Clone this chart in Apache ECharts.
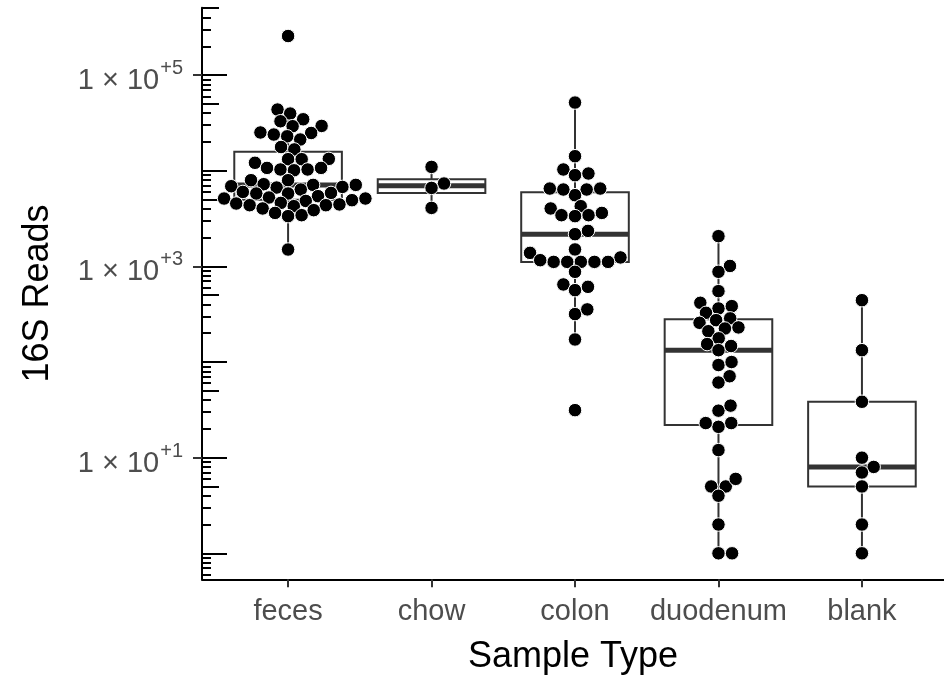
<!DOCTYPE html>
<html>
<head>
<meta charset="utf-8">
<script src="https://cdn.jsdelivr.net/npm/echarts@6/dist/echarts.min.js"></script>
<style>
html,body{margin:0;padding:0;background:#fff;}
#main{width:944px;height:675px;}
</style>
</head>
<body>
<div id="main"></div>
<script>
// ---- data (16S reads per sample) ----
const categories = ['feces', 'chow', 'colon', 'duodenum', 'blank'];
const feces = [256000, 43600, 39600, 34500, 32900, 29400, 29200, 24800, 25100, 23900, 22900, 21200,
  17700, 16700, 13300, 13200, 13200, 12100, 10700, 10300, 10100, 10300, 10700, 7960, 7960, 7110, 7110,
  6770, 6360, 6670, 6890, 7230, 5860, 5780, 6000, 5780, 5420, 5250, 4830, 5120, 5120, 4920, 4360, 4540,
  4360, 4610, 4260, 4440, 4030, 3620, 3350, 3430, 3870, 1500];
const chow = [10960, 7350, 6610, 4085];
const colon = [51600, 14180, 10300, 8980, 9350, 6510, 6360, 5550, 6360, 6510, 4260, 4030, 3430, 3350,
  3430, 3620, 2170, 2350, 1384, 1503, 1240, 1114, 1114, 1114, 1114, 1114, 1161, 877, 647, 564, 611,
  317, 355, 172, 31.4];
const duodenum = [2070, 1010, 877, 551, 416, 363, 384, 327, 286, 257, 274, 210, 224, 230, 177, 154,
  147, 133, 93, 100, 71, 61, 31, 35, 23, 21, 23, 12, 5, 5, 6, 4, 2, 1, 1];
const blank = [443, 133, 38.4, 10, 8, 7, 5, 2, 1];
const groups = [feces, chow, colon, duodenum, blank];
const labeledExponents = [1, 3, 5];          // y tick labels: 1 x 10^+1, ^+3, ^+5
const yLow = 0.535, yHigh = 5.05e5;          // y axis extent (reads)

// ---- helpers ----
const FONT = "'Liberation Sans', Arial, Helvetica, sans-serif";
const log10 = Math.log10;
function q7(s, p) { const h = (s.length - 1) * p, lo = Math.floor(h), hi = Math.ceil(h); return s[lo] + (h - lo) * (s[hi] - s[lo]); }
const boxData = groups.map((vals, i) => {
  const l = vals.map(log10).sort((a, b) => a - b);
  const q1 = q7(l, 0.25), med = q7(l, 0.5), q3 = q7(l, 0.75), iqr = q3 - q1;
  const lo = l.find(v => v >= q1 - 1.5 * iqr);
  const hi = l.slice().reverse().find(v => v <= q3 + 1.5 * iqr);
  return [i + 1, lo, q1, med, q3, hi];
});

const yMin = log10(yLow), yMax = log10(yHigh);
const decades = [], fives = [], others = [];
for (let k = -1; k <= 5; k++) {
  for (let m = 1; m <= 9; m++) {
    const v = log10(m * Math.pow(10, k));
    if (v < yMin - 1e-9 || v > yMax + 1e-9) continue;
    if (m === 1) decades.push(v); else if (m === 5) fives.push(v); else others.push(v);
  }
}
function tickAxis(vals, len) {
  return {
    type: 'value', min: yMin, max: yMax, position: 'left', offset: 0,
    axisLine: { show: false }, splitLine: { show: false },
    axisLabel: { show: false },
    axisTick: { show: true, inside: true, length: len, customValues: vals, lineStyle: { color: '#000', width: 2 } }
  };
}

const chart = echarts.init(document.getElementById('main'));
const option = {
  animation: false,
  backgroundColor: '#fff',
  grid: { left: 202, right: 0, top: 7.8, bottom: 95.7, containLabel: false, outerBoundsMode: 'none' },
  xAxis: {
    type: 'value', min: 0.4, max: 5.572,
    name: 'Sample Type', nameLocation: 'middle', nameGap: 60,
    nameTextStyle: { fontSize: 36, color: '#000', fontFamily: FONT },
    axisLine: { show: true, onZero: false, lineStyle: { color: '#000', width: 2 } },
    axisTick: { show: true, length: 8, customValues: [1, 2, 3, 4, 5], lineStyle: { color: '#333', width: 2 } },
    axisLabel: { customValues: [1, 2, 3, 4, 5], margin: 18, fontSize: 29, color: '#4d4d4d', fontFamily: FONT,
      formatter: v => categories[Math.round(v) - 1] },
    splitLine: { show: false }
  },
  yAxis: [
    {
      type: 'value', min: yMin, max: yMax, position: 'left',
      name: '16S Reads', nameLocation: 'middle', nameGap: 146,
      nameTextStyle: { fontSize: 36, color: '#000', fontFamily: FONT },
      axisLine: { show: true, onZero: false, lineStyle: { color: '#000', width: 2 } },
      axisTick: { show: true, length: 9, customValues: labeledExponents, lineStyle: { color: '#333', width: 2 } },
      axisLabel: {
        customValues: labeledExponents, margin: 19, padding: [12, 0, 0, 0],
        formatter: v => '{b|1 \u00d7 10}{s|+' + Math.round(v) + '}',
        rich: {
          b: { fontSize: 29, lineHeight: 29, color: '#4d4d4d', fontFamily: FONT, verticalAlign: 'bottom' },
          s: { fontSize: 20, lineHeight: 20, color: '#4d4d4d', fontFamily: FONT, verticalAlign: 'bottom', padding: [0, 0, 17, 1] }
        }
      },
      splitLine: { show: false }
    },
    tickAxis(decades, 25),
    tickAxis(fives, 17),
    tickAxis(others, 9)
  ],
  series: [{
    type: 'custom', name: 'box', xAxisIndex: 0, yAxisIndex: 0, z: 1,
    data: boxData,
    renderItem: function (params, api) {
      const x = api.value(0), hw = 0.375;
      const pLo = api.coord([x, api.value(1)]), pQ1 = api.coord([x, api.value(2)]);
      const pMed = api.coord([x, api.value(3)]), pQ3 = api.coord([x, api.value(4)]), pHi = api.coord([x, api.value(5)]);
      const left = api.coord([x - hw, api.value(3)])[0], right = api.coord([x + hw, api.value(3)])[0];
      const st = { stroke: '#333333', lineWidth: 2 };
      return { type: 'group', children: [
        { type: 'line', shape: { x1: pLo[0], y1: pLo[1], x2: pQ1[0], y2: pQ1[1] }, style: st },
        { type: 'line', shape: { x1: pQ3[0], y1: pQ3[1], x2: pHi[0], y2: pHi[1] }, style: st },
        { type: 'rect', shape: { x: left, y: pQ3[1], width: right - left, height: pQ1[1] - pQ3[1] },
          style: { fill: '#fff', stroke: '#333333', lineWidth: 2 } },
        { type: 'line', shape: { x1: left, y1: pMed[1], x2: right, y2: pMed[1] }, style: { stroke: '#333333', lineWidth: 5 } }
      ] };
    }
  }]
};
chart.setOption(option);

// ---- beeswarm layout (swarm, ascending priority) computed in pixel space ----
const DX = 13.6, DY = 11;
function swarm(pys) {
  const order = pys.map((y, i) => i).sort((a, b) => pys[b] - pys[a]);
  const placed = [], out = new Array(pys.length);
  const clash = (x, y, p) => ((p.x - x) / DX) ** 2 + ((p.y - y) / DY) ** 2 < 1 - 1e-9;
  for (const i of order) {
    const y = pys[i], cands = [0];
    for (const p of placed) {
      const dy = Math.abs(p.y - y);
      if (dy < DY) { const dx = DX * Math.sqrt(1 - (dy / DY) ** 2); cands.push(p.x + dx, p.x - dx); }
    }
    const ok = cands.filter(x => placed.every(p => !clash(x, y, p)));
    ok.sort((a, b) => (Math.abs(a) - Math.abs(b)) || (b - a));
    out[i] = ok[0]; placed.push({ x: ok[0], y });
  }
  return out;
}
const px1 = chart.convertToPixel({ xAxisIndex: 0, yAxisIndex: 0 }, [1, 0]);
const px2 = chart.convertToPixel({ xAxisIndex: 0, yAxisIndex: 0 }, [2, 0]);
const pxPerUnit = px2[0] - px1[0];
const points = [];
groups.forEach((vals, g) => {
  const pys = vals.map(v => chart.convertToPixel({ xAxisIndex: 0, yAxisIndex: 0 }, [g + 1, log10(v)])[1]);
  const offs = swarm(pys);
  vals.forEach((v, i) => points.push([g + 1 + offs[i] / pxPerUnit, log10(v)]));
});
chart.setOption({
  series: [option.series[0], {
    type: 'scatter', name: 'points', xAxisIndex: 0, yAxisIndex: 0, z: 5,
    symbol: 'circle', symbolSize: 13.5,
    itemStyle: { color: '#000', borderColor: '#fff', borderWidth: 1, opacity: 1 },
    emphasis: { disabled: true },
    data: points
  }]
});
</script>
</body>
</html>
